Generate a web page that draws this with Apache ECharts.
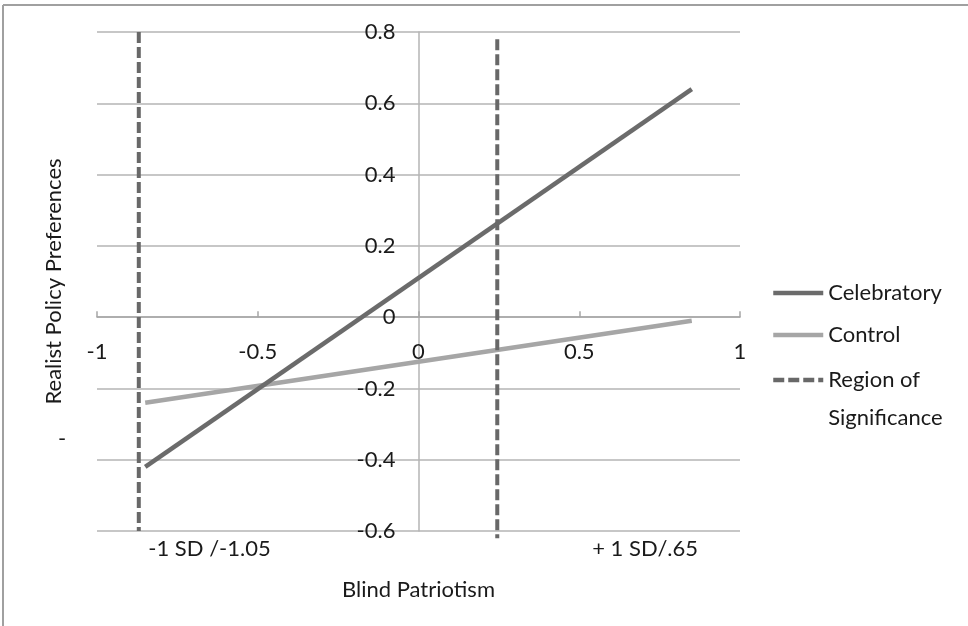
<!DOCTYPE html>
<html>
<head>
<meta charset="utf-8">
<script src="https://cdn.jsdelivr.net/npm/echarts@6/dist/echarts.min.js"></script>
<style>
html,body{margin:0;padding:0;background:#fff;}
#c{width:968px;height:626px;}
</style>
</head>
<body>
<div id="c"></div>
<script>
// Data
var xEnds = [-0.85, 0.85];
var celebratory = [-0.42, 0.64];
var control = [-0.24, -0.01];
var regionLeftX = -0.87;
var regionLeftY = [0.8, -0.6];
var regionRightX = 0.245;
var regionRightY = [0.78, -0.62];
var sdTickValues = [-0.65, 0.705];
var sdTickLabels = ['-1 SD /-1.05', '+ 1 SD/.65'];
var regionName = 'Region of\nSignificance';

var FONT = 'Lato';
var FS = 22;
var TXT = '#1a1a1a';
var GRIDC = '#b4b4b4';

function pairs(xs, ys) { return xs.map(function (x, i) { return [x, ys[i]]; }); }

var chart = echarts.init(document.getElementById('c'), null, {renderer: 'canvas'});

function buildOption(xOff, yOff) {
  return {
    animation: false,
    backgroundColor: '#fff',
    textStyle: {fontFamily: FONT},
    grid: {left: 97, right: 228, top: 32, bottom: 95, containLabel: false, outerBoundsMode: 'none'},
    xAxis: [{
      type: 'value', min: -1, max: 1, interval: 0.5, position: 'bottom', offset: xOff,
      axisLine: {show: true, onZero: false, lineStyle: {color: '#a6a6a6', width: 1.5}},
      axisTick: {show: true, inside: true, length: 6, lineStyle: {color: '#a6a6a6', width: 1.5}},
      axisLabel: {margin: 24, fontSize: FS, color: TXT, fontFamily: FONT},
      splitLine: {show: false}
    }, {
      type: 'value', min: -1, max: 1, position: 'bottom',
      axisLine: {show: false}, axisTick: {show: false}, splitLine: {show: false},
      axisLabel: {
        customValues: sdTickValues, margin: 7, fontSize: FS, color: TXT, fontFamily: FONT,
        formatter: function (v) {
          for (var i = 0; i < sdTickValues.length; i++) {
            if (Math.abs(v - sdTickValues[i]) < 1e-6) return sdTickLabels[i];
          }
          return '';
        }
      },
      name: 'Blind Patriotism', nameLocation: 'middle', nameGap: 48,
      nameTextStyle: {fontSize: FS, color: TXT, fontFamily: FONT}
    }],
    yAxis: [{
      type: 'value', min: -0.6, max: 0.8, interval: 0.2, position: 'left', offset: yOff,
      axisLine: {show: true, onZero: false, lineStyle: {color: GRIDC, width: 1.5}},
      axisTick: {show: false},
      axisLabel: {margin: 23, fontSize: FS, color: TXT, fontFamily: FONT,
        formatter: function (v) { return String(Math.round(v * 10) / 10); }},
      splitLine: {show: true, lineStyle: {color: GRIDC, width: 1.5}}
    }, {
      type: 'value', min: -0.6, max: 0.8, interval: 0.2, position: 'left',
      axisLine: {show: false}, axisTick: {show: false}, axisLabel: {show: false}, splitLine: {show: false},
      name: 'Realist Policy Preferences', nameLocation: 'middle', nameRotate: 90, nameGap: 32,
      nameTextStyle: {fontSize: FS, color: TXT, fontFamily: FONT}
    }],
    legend: [{
      orient: 'vertical', left: 771, top: 281, padding: 0,
      data: ['Celebratory', 'Control'],
      itemWidth: 50, itemHeight: 14, itemGap: 18,
      itemStyle: {opacity: 0},
      lineStyle: {width: 4.5},
      textStyle: {fontSize: FS, color: TXT, fontFamily: FONT, lineHeight: 24}
    }, {
      orient: 'vertical', left: 771, top: 323, padding: 0,
      data: [regionName],
      itemWidth: 50, itemHeight: 14,
      itemStyle: {opacity: 0},
      lineStyle: {width: 4.5},
      formatter: function (name) { return ' \n' + name; },
      textStyle: {fontSize: FS, color: TXT, fontFamily: FONT, lineHeight: 38}
    }],
    graphic: [
      {type: 'line', shape: {x1: 3, y1: 5, x2: 968, y2: 5}, style: {stroke: '#a0a0a0', lineWidth: 2}, silent: true},
      {type: 'line', shape: {x1: 3, y1: 5, x2: 3, y2: 626}, style: {stroke: '#a0a0a0', lineWidth: 2}, silent: true},
      {type: 'text', left: 58, top: 428, style: {text: '-', fontSize: FS, fill: TXT, fontFamily: FONT}}
    ],
    series: [{
      name: 'Celebratory', type: 'line', symbol: 'none', xAxisIndex: 0, yAxisIndex: 0,
      data: pairs(xEnds, celebratory),
      lineStyle: {color: '#6b6b6b', width: 4.5}, itemStyle: {color: '#6b6b6b'}, z: 5
    }, {
      name: 'Control', type: 'line', symbol: 'none', xAxisIndex: 0, yAxisIndex: 0,
      data: pairs(xEnds, control),
      lineStyle: {color: '#a6a6a6', width: 4.5}, itemStyle: {color: '#a6a6a6'}, z: 4
    }, {
      name: regionName, type: 'line', symbol: 'none', xAxisIndex: 0, yAxisIndex: 0, clip: false,
      data: pairs([regionLeftX, regionLeftX], regionLeftY),
      lineStyle: {color: '#686868', width: 4, type: [11, 4]}, itemStyle: {color: '#686868'}, z: 6
    }, {
      name: regionName, type: 'line', symbol: 'none', xAxisIndex: 0, yAxisIndex: 0, clip: false,
      data: pairs([regionRightX, regionRightX], regionRightY),
      lineStyle: {color: '#686868', width: 4, type: [11, 4]}, itemStyle: {color: '#686868'}, z: 6
    }]
  };
}

chart.setOption(buildOption(0, 0));
// Move the axes so they cross at the origin (x = 0, y = 0), like the reference.
var origin = chart.convertToPixel({xAxisIndex: 0, yAxisIndex: 0}, [0, 0]);
var corner = chart.convertToPixel({xAxisIndex: 0, yAxisIndex: 0}, [-1, -0.6]);
chart.setOption(buildOption(-(corner[1] - origin[1]), -(origin[0] - corner[0])), true);
</script>
</body>
</html>
